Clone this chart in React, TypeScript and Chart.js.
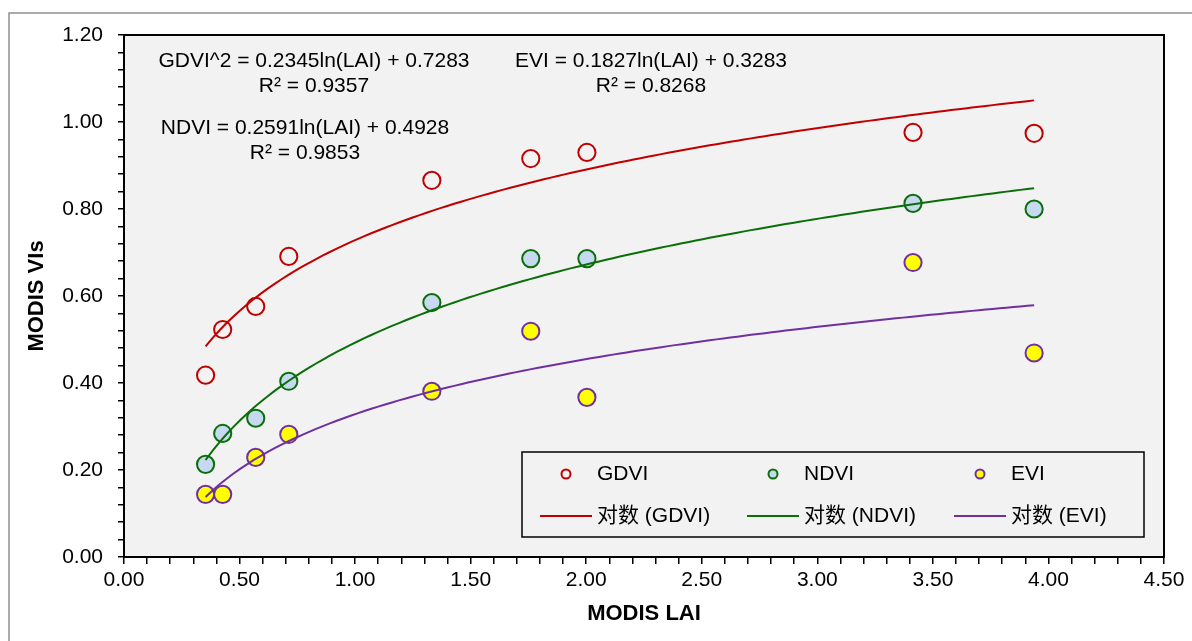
import React, { useEffect, useRef } from 'react';
import { Chart, registerables } from 'chart.js';

Chart.register(...registerables);

// ---- data ----
const lai = [0.353, 0.427, 0.57, 0.713, 1.332, 1.76, 2.003, 3.414, 3.938];
const gdvi = [0.418, 0.523, 0.576, 0.691, 0.866, 0.916, 0.93, 0.976, 0.974];
const ndvi = [0.213, 0.284, 0.319, 0.404, 0.585, 0.686, 0.686, 0.813, 0.8];
const evi = [0.144, 0.144, 0.229, 0.282, 0.381, 0.519, 0.367, 0.677, 0.469];

// logarithmic trendline coefficients (y = a ln(x) + b), as printed on the chart
const gdviFit = [0.2345, 0.7283];
const ndviFit = [0.2591, 0.4928];
const eviFit = [0.1827, 0.3283];

const seriesNames = ['GDVI', 'NDVI', 'EVI'];
const trendNames = ['对数 (GDVI)', '对数 (NDVI)', '对数 (EVI)'];
const gdviLabel = ['GDVI^2 = 0.2345ln(LAI) + 0.7283', 'R² = 0.9357'];
const ndviLabel = ['NDVI = 0.2591ln(LAI) + 0.4928', 'R² = 0.9853'];
const eviLabel = ['EVI = 0.1827ln(LAI) + 0.3283', 'R² = 0.8268'];

const xMajorTicks = [0, 0.5, 1, 1.5, 2, 2.5, 3, 3.5, 4, 4.5];
const yMajorTicks = [0, 0.2, 0.4, 0.6, 0.8, 1.0, 1.2];
const xMinorPerMajor = 5;
const yMinorPerMajor = 5;

const RED = '#c00000';
const GREEN = '#0a6e0a';
const PURPLE = '#7030a0';
const FONT = "'Liberation Sans', Arial, 'Noto Sans CJK SC', sans-serif";

function withMinor(major: number[], per: number): number[] {
  const out: number[] = [];
  for (let i = 0; i < major.length - 1; i++) {
    const step = (major[i + 1] - major[i]) / per;
    for (let k = 0; k < per; k++) out.push(major[i] + k * step);
  }
  out.push(major[major.length - 1]);
  return out;
}

function isMajor(v: number, major: number[]): boolean {
  return major.some((m) => Math.abs(m - v) < 1e-6);
}

function trend(fit: number[]) {
  const xmin = Math.min(...lai);
  const xmax = Math.max(...lai);
  const pts: { x: number; y: number }[] = [];
  const n = 120;
  for (let i = 0; i <= n; i++) {
    const x = xmin + ((xmax - xmin) * i) / n;
    pts.push({ x, y: fit[0] * Math.log(x) + fit[1] });
  }
  return pts;
}

const pairs = (ys: number[]) => lai.map((x, i) => ({ x, y: ys[i] }));

const decorPlugin = {
  id: 'decor',
  beforeDraw(chart: any) {
    const { ctx, chartArea: a } = chart;
    ctx.save();
    ctx.fillStyle = '#ffffff';
    ctx.fillRect(0, 0, chart.width, chart.height);
    ctx.strokeStyle = '#8f8f8f';
    ctx.lineWidth = 1.5;
    ctx.strokeRect(9, 13, 3000, 3000);
    ctx.fillStyle = '#f2f2f2';
    ctx.fillRect(a.left, a.top, a.right - a.left, a.bottom - a.top);
    ctx.restore();
  },
  afterDraw(chart: any) {
    const { ctx, chartArea: a } = chart;
    ctx.save();
    ctx.strokeStyle = '#000';
    ctx.lineWidth = 2;
    ctx.strokeRect(a.left, a.top, a.right - a.left, a.bottom - a.top);

    // equation labels
    ctx.fillStyle = '#000';
    ctx.font = `21px ${FONT}`;
    ctx.textAlign = 'center';
    ctx.textBaseline = 'middle';
    const drawLabel = (lines: string[], cx: number, cy: number) => {
      lines.forEach((t, i) => ctx.fillText(t, cx, cy + i * 25));
    };
    drawLabel(gdviLabel, 314, 61);
    drawLabel(ndviLabel, 305, 128);
    drawLabel(eviLabel, 651, 61);

    // legend
    const lx = 522, ly = 452, lw = 622, lh = 85;
    ctx.fillStyle = '#f2f2f2';
    ctx.fillRect(lx, ly, lw, lh);
    ctx.strokeStyle = '#000';
    ctx.lineWidth = 1.5;
    ctx.strokeRect(lx, ly, lw, lh);
    const ds = chart.data.datasets;
    const colX = [566, 773, 980];
    const textX = [597, 804, 1011];
    ctx.textAlign = 'left';
    ctx.font = `21px ${FONT}`;
    for (let i = 0; i < 3; i++) {
      const pd = ds[3 + i];
      ctx.beginPath();
      ctx.arc(colX[i], 474, 4.5, 0, Math.PI * 2);
      ctx.fillStyle = pd.backgroundColor;
      ctx.fill();
      ctx.lineWidth = 2;
      ctx.strokeStyle = pd.borderColor;
      ctx.stroke();
      ctx.fillStyle = '#000';
      ctx.fillText(pd.label, textX[i], 474);

      const td = ds[i];
      ctx.beginPath();
      ctx.moveTo(colX[i] - 26, 516);
      ctx.lineTo(colX[i] + 26, 516);
      ctx.strokeStyle = td.borderColor;
      ctx.lineWidth = 2;
      ctx.stroke();
      ctx.fillStyle = '#000';
      ctx.fillText(td.label, textX[i], 516);
    }
    ctx.restore();
  },
};

export default function App() {
  const ref = useRef<HTMLCanvasElement | null>(null);
  useEffect(() => {
    if (!ref.current) return;
    const xTicks = withMinor(xMajorTicks, xMinorPerMajor);
    const yTicks = withMinor(yMajorTicks, yMinorPerMajor);
    const chart = new Chart(ref.current, {
      type: 'scatter',
      data: {
        datasets: [
          { type: 'line', label: trendNames[0], data: trend(gdviFit), borderColor: RED, borderWidth: 2, pointRadius: 0, fill: false, order: 0 } as any,
          { type: 'line', label: trendNames[1], data: trend(ndviFit), borderColor: GREEN, borderWidth: 2, pointRadius: 0, fill: false, order: 0 } as any,
          { type: 'line', label: trendNames[2], data: trend(eviFit), borderColor: PURPLE, borderWidth: 2, pointRadius: 0, fill: false, order: 0 } as any,
          { label: seriesNames[0], data: pairs(gdvi), pointRadius: 8.6, borderWidth: 2, borderColor: RED, backgroundColor: 'rgba(0,0,0,0)', order: 1 },
          { label: seriesNames[1], data: pairs(ndvi), pointRadius: 8.6, borderWidth: 2, borderColor: GREEN, backgroundColor: '#c6d9f0', order: 1 },
          { label: seriesNames[2], data: pairs(evi), pointRadius: 8.6, borderWidth: 2, borderColor: PURPLE, backgroundColor: '#ffff00', order: 1 },
        ],
      },
      options: {
        animation: false,
        responsive: false,
        maintainAspectRatio: false,
        devicePixelRatio: 1,
        layout: { padding: { top: 35, right: 28, left: 0, bottom: 0 } },
        plugins: { legend: { display: false }, tooltip: { enabled: false } },
        scales: {
          x: {
            type: 'linear',
            min: 0,
            max: 4.5,
            afterBuildTicks: (s: any) => {
              s.ticks = xTicks.map((v) => ({ value: v }));
            },
            afterFit: (s: any) => {
              s.height = 84;
            },
            ticks: {
              autoSkip: false,
              maxRotation: 0,
              padding: 4,
              color: '#000',
              font: { family: FONT, size: 21 },
              callback: (v: any) => (isMajor(Number(v), xMajorTicks) ? Number(v).toFixed(2) : ''),
            },
            grid: { drawOnChartArea: false, drawTicks: true, tickLength: 7, color: '#000', lineWidth: 1.5 },
            border: { color: '#000', width: 2 },
            title: { display: true, text: 'MODIS LAI', color: '#000', font: { family: FONT, size: 22, weight: 'bold' }, padding: { top: 0, bottom: 14 } },
          },
          y: {
            type: 'linear',
            min: 0,
            max: 1.2,
            afterBuildTicks: (s: any) => {
              s.ticks = yTicks.map((v) => ({ value: v }));
            },
            afterFit: (s: any) => {
              s.width = 124;
            },
            ticks: {
              autoSkip: false,
              padding: 15,
              color: '#000',
              font: { family: FONT, size: 21 },
              callback: (v: any) => (isMajor(Number(v), yMajorTicks) ? Number(v).toFixed(2) : ''),
            },
            grid: { drawOnChartArea: false, drawTicks: true, tickLength: 6, color: '#000', lineWidth: 1.5 },
            border: { color: '#000', width: 2 },
            title: { display: true, text: 'MODIS VIs', color: '#000', font: { family: FONT, size: 22, weight: 'bold' }, padding: { top: 24, bottom: 0 } },
          },
        },
      } as any,
      plugins: [decorPlugin],
    });
    return () => chart.destroy();
  }, []);
  return (
    <div style={{ position: 'fixed', left: 0, top: 0, width: 1192, height: 641, background: '#fff' }}>
      <canvas ref={ref} width={1192} height={641} style={{ display: 'block', width: 1192, height: 641 }} />
    </div>
  );
}
